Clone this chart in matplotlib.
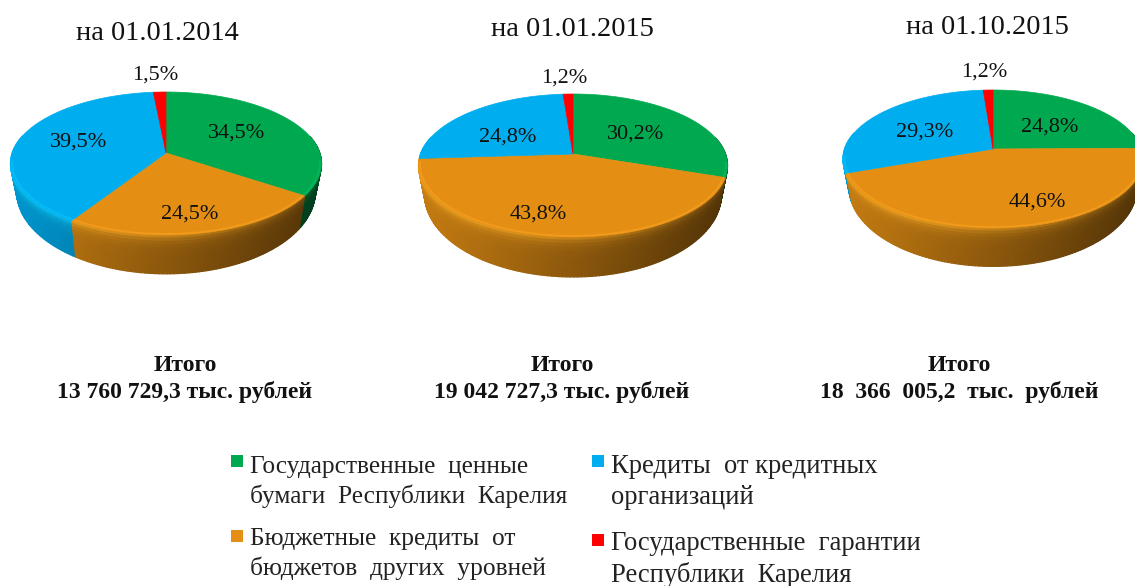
import numpy as np
import matplotlib
matplotlib.use("Agg")
import matplotlib.pyplot as plt
from matplotlib.collections import PolyCollection
from matplotlib.colors import to_rgb

plt.rcParams['font.family'] = ['Liberation Serif', 'DejaVu Serif']

series_names = ["Государственные  ценные\nбумаги  Республики  Карелия",
                "Бюджетные  кредиты  от\nбюджетов  других  уровней",
                "Кредиты  от кредитных\nорганизаций",
                "Государственные  гарантии\nРеспублики  Карелия"]
colors = ["#00A94F", "#E48F14", "#00AEEF", "#FF0000"]

dates = ["на 01.01.2014", "на 01.01.2015", "на 01.10.2015"]
totals = ["Итого\n13 760 729,3 тыс. рублей",
          "Итого\n19 042 727,3 тыс. рублей",
          "Итого\n18  366  005,2  тыс.  рублей"]
values_2014 = [34.5, 24.5, 39.5, 1.5]
values_2015 = [30.2, 43.8, 24.8, 1.2]
values_2015q = [24.8, 44.6, 29.3, 1.2]
all_values = [values_2014, values_2015, values_2015q]

# geometry: apex x, apex y, half width, far extent, near extent, wall height
pies = [(166, 153, 155.5, 61, 82, 39),
        (573, 154, 154.5, 60, 83, 40),
        (993, 149, 150.0, 59, 79, 39)]
title_pos = [(157, 33), (572, 30), (987, 28)]
total_pos = [(185, 379), (562, 379), (959, 379)]
label_pos = [[(237, 133), (190, 214), (79, 142), (155, 75)],
             [(636, 134), (538, 214), (508, 137), (564, 78)],
             [(1050, 127), (1037, 202), (925, 132), (984, 72)]]
legend_pos = [(237, 461, 250, 482, 18.3), (237, 536, 250, 554, 18.3),
              (598, 461, 611, 482, 19.2), (598, 540, 611, 559, 19.2)]

fig = plt.figure(figsize=(11.35, 5.86), dpi=100)
ax = fig.add_axes([0, 0, 1, 1])
ax.set_xlim(0, 1135)
ax.set_ylim(586, 0)
ax.axis('off')


def project(t, r, g):
    cx, ay, half, far, near, _ = g
    k = (near - far) / (near + far)
    a = far * (1 + k)
    b = half * np.sqrt(1 - k * k)
    u, v = r * np.cos(t), r * np.sin(t)
    d = 1 + k * v
    return cx + b * u / d, ay - a * v / d


def wall_point(x, y, z, g):
    """Point on the wall; z runs 0 (top rim) to 1 (bottom rim, slightly narrower)."""
    cx, ay, _, _, _, h = g
    bx = cx + 0.96 * (x - cx)
    by = ay + 1.15 * (y - ay) + (h - 12.5)
    return x + (bx - x) * z, y + (by - y) * z


for idx, (vals, g, tp, op, lps) in enumerate(zip(all_values, pies, title_pos, total_pos, label_pos)):
    cx, ay, half, far, near, h = g
    fr = np.array(vals) / sum(vals)
    edges = np.pi / 2 - 2 * np.pi * np.concatenate([[0], np.cumsum(fr)])

    # side wall, far strips first
    strips = []
    for i, col in enumerate(colors):
        base = np.array(to_rgb(col))
        n = max(6, int(300 * fr[i]))
        ts = np.linspace(edges[i], edges[i + 1], n + 1)
        for t0, t1 in zip(ts[:-1], ts[1:]):
            if np.sin((t0 + t1) / 2) > 0.25:
                continue
            x0, y0 = project(t0, 1, g)
            x1, y1 = project(t1, 1, g)
            xn = ((x0 + x1) / 2 - (cx - half)) / (2 * half)
            f = 0.86 - 0.50 * xn
            bands = 12
            for j in range(bands):
                z0, z1 = j / bands, (j + 1) / bands
                glow = np.exp(-((j + 0.5) / bands) * 7) * (1 - 0.75 * xn)
                c = base * f * (1 - glow) + np.minimum(base * 1.12 + 0.06, 1) * glow
                quad = [wall_point(x0, y0, z0, g), wall_point(x1, y1, z0, g),
                        wall_point(x1, y1, z1, g), wall_point(x0, y0, z1, g)]
                strips.append((np.sin((t0 + t1) / 2), j, quad, np.clip(c, 0, 1)))
    strips.sort(key=lambda s: (-s[0], s[1]))
    polys = [s[2] for s in strips]
    cols = [s[3] for s in strips]
    ax.add_collection(PolyCollection(polys, facecolors=cols, edgecolors=cols, linewidths=0.9, zorder=2))

    # top surface
    for i, col in enumerate(colors):
        ts = np.linspace(edges[i], edges[i + 1], 200)
        xs, ys = project(ts, 1, g)
        ax.fill(np.r_[cx, xs], np.r_[ay, ys], facecolor=col, edgecolor=col, lw=0.5, zorder=3)

    # soft light rim on the near edge of the top surface
    for i, col in enumerate(colors):
        ts = np.linspace(edges[i], edges[i + 1], 200)
        ts = ts[np.sin(ts) < -0.1]
        if len(ts) > 1:
            xs, ys = project(ts, 0.99, g)
            ax.plot(xs, ys, color=np.minimum(np.array(to_rgb(col)) * 1.08 + 0.05, 1),
                    lw=1.5, alpha=0.45, zorder=4, solid_capstyle='butt')

    for v, (x, y) in zip(vals, lps):
        ax.text(x, y, f"{v:.1f}%".replace('.', ','), ha='center', va='center',
                fontsize=16, color='#111111', zorder=5)
    ax.text(tp[0], tp[1], dates[idx], ha='center', va='center',
            fontsize=20.5, color='#111111')
    ax.text(op[0], op[1], totals[idx], ha='center', va='center',
            fontsize=17, fontweight='bold', color='#111111', linespacing=1.25)

for name, col, (mx, my, tx, ty, fs) in zip(series_names, colors, legend_pos):
    ax.scatter([mx], [my], marker='s', s=85, color=col, linewidths=0, zorder=5)
    ax.text(tx, ty, name, ha='left', va='center', fontsize=fs, color='#222222', linespacing=1.3)

fig.savefig("out.png", dpi=100)
